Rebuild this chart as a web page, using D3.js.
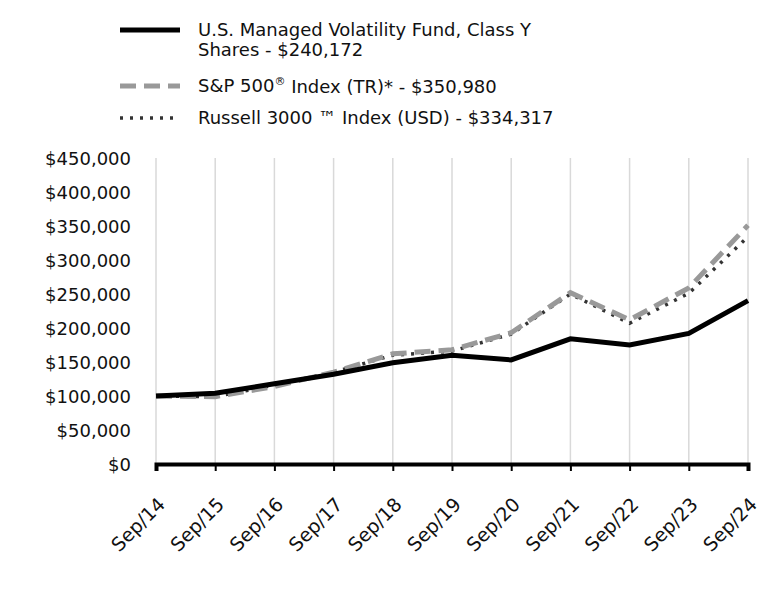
<!DOCTYPE html>
<html><head><meta charset="utf-8">
<script src="https://cdn.jsdelivr.net/npm/d3@7"></script>
<style>body{margin:0;background:#fff}text{font-family:"DejaVu Sans",sans-serif}</style>
</head><body><svg id="c" width="768" height="612"></svg>
<script>
const categories = ["Sep/14","Sep/15","Sep/16","Sep/17","Sep/18","Sep/19","Sep/20","Sep/21","Sep/22","Sep/23","Sep/24"];
const fund = [100000,104000,118000,132000,149000,160000,153000,184000,175000,192000,240172];
const sp500 = [100000,99000,114000,135000,162000,168000,193000,252000,212000,259000,350980];
const russell = [100000,99000,116000,135000,160000,166000,191000,250000,207000,251000,334317];
const yTicks = [0,50000,100000,150000,200000,250000,300000,350000,400000,450000];
const legendLabels = [["U.S. Managed Volatility Fund, Class Y","Shares - $240,172"],["S&P 500","®"," Index (TR)* - $350,980"],["Russell 3000 ™ Index (USD) - $334,317"]];

const svg = d3.select("#c");
const x = d3.scalePoint().domain(categories).range([156,748]);
const y = d3.scaleLinear().domain([0,450000]).range([464,158]);

// gridlines
svg.append("g").selectAll("line").data(categories).join("line")
  .attr("x1",d=>x(d)).attr("x2",d=>x(d)).attr("y1",y(450000)).attr("y2",y(0))
  .attr("stroke","#d9d9d9").attr("stroke-width",1.5);

// y axis labels
const ya = svg.append("g").attr("transform","translate(131,0)")
  .call(d3.axisLeft(y).tickValues(yTicks).tickSize(0).tickPadding(0).tickFormat(d=>"$"+d3.format(",")(d)));
ya.select(".domain").remove();
ya.selectAll("text").attr("font-size",18).attr("fill","#111").attr("dy","0.35em");

// x axis
const xa = svg.append("g").attr("transform",`translate(0,${y(0)})`)
  .call(d3.axisBottom(x).tickSize(7).tickPadding(4));
xa.select(".domain").attr("stroke","#000").attr("stroke-width",4);
xa.selectAll(".tick line").attr("stroke","#000").attr("stroke-width",2);
xa.selectAll("text").attr("font-size",19).attr("fill","#111")
  .attr("text-anchor","end").attr("x",0).attr("y",0).attr("dx",0).attr("dy","0.35em")
  .attr("transform","translate(5,37) rotate(-45)");

const line = d3.line().x((d,i)=>x(categories[i])).y(d=>y(d));
const styles = [
  {data:fund, stroke:"#000", w:5, dash:null},
  {data:sp500, stroke:"#999", w:5, dash:"16,8"},
  {data:russell, stroke:"#333", w:3.5, dash:"3,7"}
];
[styles[2],styles[1],styles[0]].forEach(s=>{
  svg.append("path").datum(s.data).attr("d",line).attr("fill","none")
    .attr("stroke",s.stroke).attr("stroke-width",s.w)
    .attr("stroke-dasharray",s.dash);
});

// legend
const ly = [30,86,118];
legendLabels.forEach((lab,i)=>{
  const s = styles[i];
  svg.append("line").attr("x1",120).attr("x2",180).attr("y1",ly[i]).attr("y2",ly[i])
    .attr("stroke",s.stroke).attr("stroke-width",s.w).attr("stroke-dasharray",s.dash);
  const t = svg.append("text").attr("x",198).attr("y",ly[i]).attr("font-size",18).attr("fill","#111").attr("dy","0.35em");
  if (i===0) {
    lab.forEach((l,j)=>t.append("tspan").attr("x",198).attr("dy",j===0?"0.35em":"1.1em").text(l));
  } else if (i===1) {
    t.append("tspan").text(lab[0]);
    t.append("tspan").attr("font-size",11).attr("dy","-0.7em").text(lab[1]);
    t.append("tspan").attr("dy","0.45em").text(lab[2]);
  } else {
    t.text(lab[0]);
  }
});
</script></body></html>
